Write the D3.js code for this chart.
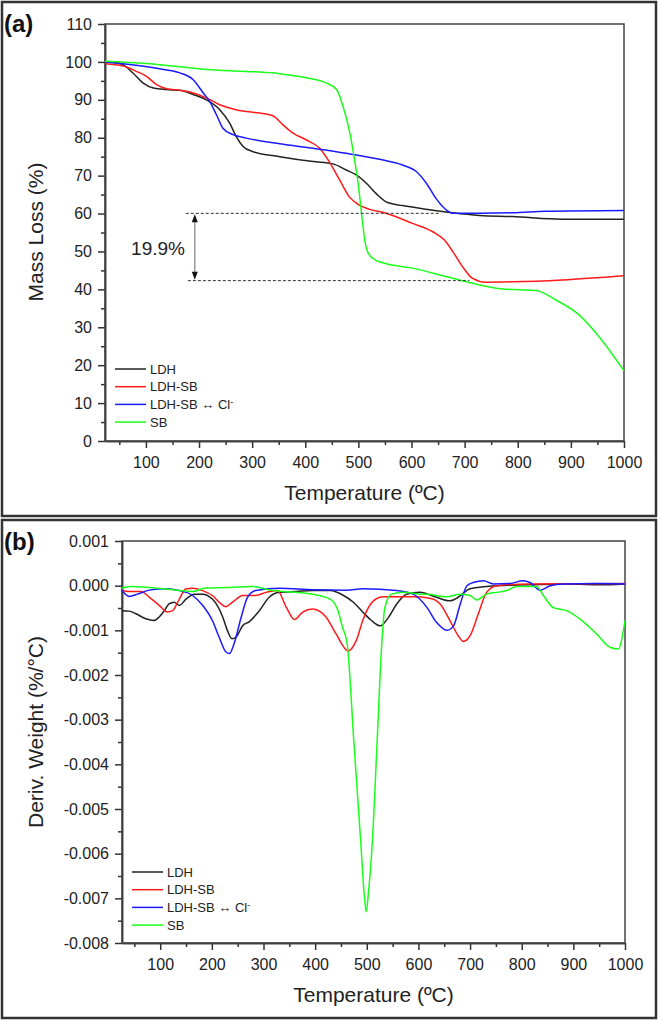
<!DOCTYPE html>
<html>
<head>
<meta charset="utf-8">
<script src="https://cdn.jsdelivr.net/npm/d3@7"></script>
<style>
  body { margin: 0; background: #fff; }
  svg { display: block; }
  text { font-family: "Liberation Sans", Arial, sans-serif; fill: #222; }
</style>
</head>
<body>
<svg id="chart" width="661" height="1021"></svg>
<script>
// series names and colours
var names = ["LDH", "LDH-SB", "LDH-SB \u2194 Cl", "SB"];
var colors = ["#222222", "#ff1a1a", "#1a1aff", "#1aff1a"];

// (a) mass loss, [temperature °C, mass %]
var ldhMass = [[23,100],[45,99.8],[57,99.3],[76,97],[95,94.4],[114,93.1],[139,92.7],[164,92.5],[189,91.4],[214,90],[239,87.4],[258,83.8],[270,80.3],[283,77.7],[302,76.3],[352,75],[415,73.7],[452,73.1],[477,71.5],[496,70.2],[515,68],[534,65.2],[555,62.9],[583,62.1],[634,61],[677,60.2],[728,59.5],[790,59.2],[884,58.5],[1000,58.5]];
var ldhSbMass = [[23,99.5],[57,98.9],[82,97.5],[101,96.2],[120,94],[139,92.9],[164,92.5],[189,91.8],[214,90.5],[239,88.7],[264,87.6],[289,86.9],[314,86.5],[339,85.8],[358,83.4],[377,81.2],[402,79.4],[427,77.2],[445,73.7],[465,68.8],[483,64.4],[502,62.2],[521,61.1],[552,60.1],[602,57.4],[640,55.2],[662,53],[678,49.9],[696,46],[715,42.9],[740,41.9],[790,42],[884,42.5],[1000,43.6]];
var ldhSbClMass = [[23,100],[70,99.3],[133,98],[164,97.1],[189,95.3],[208,91.8],[220,89.6],[233,86],[245,82.5],[264,80.8],[289,79.9],[352,78.4],[415,77.2],[477,75.9],[540,74.3],[583,72.8],[609,71.1],[628,68],[646,64],[665,61],[677,60.1],[728,60.1],[790,60.2],[853,60.6],[1000,60.8]];
var sbMass = [[23,100.2],[101,99.6],[164,98.7],[214,98],[289,97.5],[352,96.9],[402,95.8],[440,94.4],[459,92.7],[471,88.3],[484,81.2],[493,74],[500,67.5],[506,60],[511,54],[517,50],[527,48.2],[546,47],[602,45.6],[665,43.4],[715,41.6],[772,40.1],[834,39.7],[872,37.2],[916,33.2],[953,27.5],[1000,18.5]];

// (b) derivative weight, [temperature °C, value x 1e-3 %/°C]
var ldhDeriv = [[26,-0.56],[40,-0.57],[53,-0.63],[72,-0.74],[88,-0.78],[98,-0.70],[108,-0.56],[117,-0.41],[127,-0.37],[137,-0.44],[150,-0.30],[166,-0.19],[182,-0.19],[201,-0.30],[221,-0.70],[230,-1.0],[239,-1.19],[247,-1.15],[260,-0.89],[272,-0.81],[292,-0.56],[311,-0.26],[331,-0.15],[363,-0.13],[395,-0.11],[429,-0.11],[455,-0.22],[474,-0.37],[493,-0.60],[509,-0.78],[526,-0.90],[542,-0.71],[558,-0.41],[577,-0.19],[603,-0.15],[635,-0.26],[661,-0.34],[677,-0.26],[700,-0.07],[752,0.0],[816,0.02],[881,0.04],[945,0.02],[1000,0.04]];
var ldhSbDeriv = [[26,-0.11],[40,-0.13],[63,-0.13],[79,-0.26],[98,-0.44],[114,-0.59],[124,-0.56],[137,-0.30],[150,-0.07],[163,-0.06],[182,-0.11],[201,-0.22],[218,-0.41],[227,-0.47],[240,-0.37],[260,-0.22],[285,-0.22],[305,-0.15],[327,-0.11],[344,-0.48],[360,-0.76],[376,-0.59],[395,-0.52],[421,-0.70],[440,-1.07],[464,-1.46],[480,-1.22],[493,-0.75],[513,-0.34],[532,-0.25],[590,-0.25],[622,-0.28],[642,-0.41],[661,-0.78],[677,-1.12],[687,-1.25],[700,-1.12],[716,-0.63],[732,-0.15],[752,0.0],[816,0.04],[1000,0.05]];
var ldhSbClDeriv = [[26,-0.11],[40,-0.24],[56,-0.19],[79,-0.10],[111,-0.07],[137,-0.11],[163,-0.22],[182,-0.44],[201,-0.78],[214,-1.15],[227,-1.48],[234,-1.52],[243,-1.30],[256,-0.74],[269,-0.26],[285,-0.11],[331,-0.06],[395,-0.09],[460,-0.10],[493,-0.07],[558,-0.11],[590,-0.19],[616,-0.48],[635,-0.82],[655,-1.0],[668,-0.9],[681,-0.41],[694,0.0],[706,0.07],[726,0.11],[745,0.04],[777,0.05],[803,0.11],[816,0.07],[836,-0.10],[855,0.0],[881,0.04],[945,0.05],[1000,0.04]];
var sbDeriv = [[26,-0.05],[46,-0.02],[105,-0.07],[137,-0.11],[163,-0.13],[188,-0.05],[234,-0.04],[279,-0.02],[318,-0.11],[363,-0.15],[395,-0.19],[429,-0.30],[444,-0.55],[453,-0.93],[462,-1.3],[475,-3.5],[488,-5.69],[495,-6.9],[499,-7.3],[503,-6.9],[511,-5.69],[520,-3.5],[529,-1.3],[535,-0.49],[548,-0.19],[571,-0.15],[603,-0.19],[622,-0.2],[655,-0.25],[681,-0.19],[700,-0.22],[713,-0.32],[732,-0.19],[752,-0.15],[771,-0.11],[790,-0.02],[829,-0.02],[842,-0.22],[861,-0.49],[887,-0.56],[913,-0.75],[945,-1.08],[971,-1.38],[987,-1.42],[1000,-0.78]];

// ticks
var tempTicks = [100,200,300,400,500,600,700,800,900,1000];
var tempMinor = [50,150,250,350,450,550,650,750,850,950];
var massTicks = [0,10,20,30,40,50,60,70,80,90,100,110];
var massMinor = [5,15,25,35,45,55,65,75,85,95,105];
var derivTicks = [1,0,-1,-2,-3,-4,-5,-6,-7,-8];
var derivMinor = [0.5,-0.5,-1.5,-2.5,-3.5,-4.5,-5.5,-6.5,-7.5];

// annotation in (a): step between the two dashed levels
var stepLevels = [60.05, 42.3];
var stepLabel = "19.9%";

var svg = d3.select("#chart");

function panel(opt) {
  var g = svg.append("g");
  var x = opt.x, y = opt.y;
  var x0 = x.range()[0], x1 = x.range()[1];
  var y0 = y.range()[0], y1 = y.range()[1];

  // outer frame of panel
  g.append("rect").attr("x", 2).attr("y", opt.top).attr("width", 654).attr("height", opt.h)
    .attr("fill", "none").attr("stroke", "#333").attr("stroke-width", 2.5);

  g.append("text").attr("x", 4).attr("y", opt.top + 30)
    .style("font-size", "24px").style("font-weight", "bold").style("fill", "#111").text(opt.tag);

  // minor ticks first, then labelled axes
  g.append("g").attr("transform", "translate(0," + y0 + ")")
    .call(d3.axisBottom(x).tickValues(opt.xMinor).tickSize(4).tickSizeOuter(0).tickFormat(""));
  g.append("g").attr("transform", "translate(" + x0 + ",0)")
    .call(d3.axisLeft(y).tickValues(opt.yMinor).tickSize(4).tickSizeOuter(0).tickFormat(""));
  g.append("g").attr("class", "ax").attr("transform", "translate(0," + y0 + ")")
    .call(d3.axisBottom(x).tickValues(tempTicks).tickSize(7).tickSizeOuter(0).tickPadding(9)
      .tickFormat(d3.format("d")));
  g.append("g").attr("class", "ax").attr("transform", "translate(" + x0 + ",0)")
    .call(d3.axisLeft(y).tickValues(opt.yTicks).tickSize(7).tickSizeOuter(0).tickPadding(6).tickFormat(opt.yFormat));

  g.selectAll(".domain, .tick line").attr("stroke", "#333").attr("stroke-width", 1.5);
  g.selectAll(".ax text").style("font-size", "16px").style("font-family", "Liberation Sans, Arial, sans-serif").attr("fill", "#222");

  // box: top and right edges
  g.append("rect").attr("x", x0).attr("y", y1).attr("width", x1 - x0).attr("height", y0 - y1)
    .attr("fill", "none").attr("stroke", "#444").attr("stroke-width", 1.5);

  var line = d3.line().x(function(d) { return x(d[0]); }).y(function(d) { return y(d[1]); })
    .curve(d3.curveMonotoneX);
  opt.series.forEach(function(s, i) {
    g.append("path").datum(s).attr("d", line).attr("fill", "none")
      .attr("stroke", colors[i]).attr("stroke-width", 1.5);
  });

  // titles
  g.append("text").attr("x", (x0 + x1) / 2).attr("y", y0 + 59).attr("text-anchor", "middle")
    .style("font-size", "21px").text("Temperature (\u00baC)");
  g.append("text").attr("transform", "translate(43," + opt.yTitleY + ") rotate(-90)")
    .attr("text-anchor", "middle").style("font-size", "21px").text(opt.yTitle);

  // legend
  var lg = g.append("g").attr("transform", "translate(" + (x0 + 10) + "," + opt.legendY + ")");
  names.forEach(function(n, i) {
    var row = lg.append("g").attr("transform", "translate(0," + (i * 17.7) + ")");
    row.append("line").attr("x1", 0).attr("x2", 31).attr("stroke", colors[i]).attr("stroke-width", 1.5);
    var t = row.append("text").attr("x", 35).attr("y", 4.5).style("font-size", "13px").text(n);
    if (i === 2) t.append("tspan").attr("dy", -4).style("font-size", "9px").text("-");
  });
  return g;
}

var xa = d3.scaleLinear().domain([23, 1000]).range([105, 624]);
var ya = d3.scaleLinear().domain([0, 110]).range([441, 24]);
var ga = panel({
  top: 2, h: 514, tag: "(a)", x: xa, y: ya,
  xMinor: tempMinor, yTicks: massTicks, yMinor: massMinor, yFormat: d3.format("d"),
  series: [ldhMass, ldhSbMass, ldhSbClMass, sbMass],
  yTitle: "Mass Loss (%)", yTitleY: 232, legendY: 369
});

// dashed levels and double arrow
var dash = [[175, 655], [179, 709]];
stepLevels.forEach(function(v, i) {
  ga.append("line").attr("x1", xa(dash[i][0])).attr("x2", xa(dash[i][1]))
    .attr("y1", ya(v)).attr("y2", ya(v))
    .attr("stroke", "#333").attr("stroke-width", 1).attr("stroke-dasharray", "3,2");
});
var ax = xa(192), yTopA = ya(stepLevels[0]), yBotA = ya(stepLevels[1]);
ga.append("line").attr("x1", ax).attr("x2", ax).attr("y1", yTopA + 6).attr("y2", yBotA - 6)
  .attr("stroke", "#999").attr("stroke-width", 1.5);
ga.append("path").attr("d", "M" + ax + "," + (yTopA + 1) + "l-3,8h6z").attr("fill", "#111");
ga.append("path").attr("d", "M" + ax + "," + (yBotA - 1) + "l-3,-8h6z").attr("fill", "#111");
ga.append("text").attr("x", 158).attr("y", 255).attr("text-anchor", "middle")
  .style("font-size", "19px").text(stepLabel);

var xb = d3.scaleLinear().domain([26, 1000]).range([122, 625]);
var yb = d3.scaleLinear().domain([-8, 1]).range([943, 541]);
panel({
  top: 520, h: 498, tag: "(b)", x: xb, y: yb,
  xMinor: tempMinor, yTicks: derivTicks, yMinor: derivMinor,
  yFormat: function(d) { return (d / 1000).toFixed(3); },
  series: [ldhDeriv, ldhSbDeriv, ldhSbClDeriv, sbDeriv],
  yTitle: "Deriv. Weight (%/\u00b0C)", yTitleY: 732, legendY: 872
});
</script>
</body>
</html>
